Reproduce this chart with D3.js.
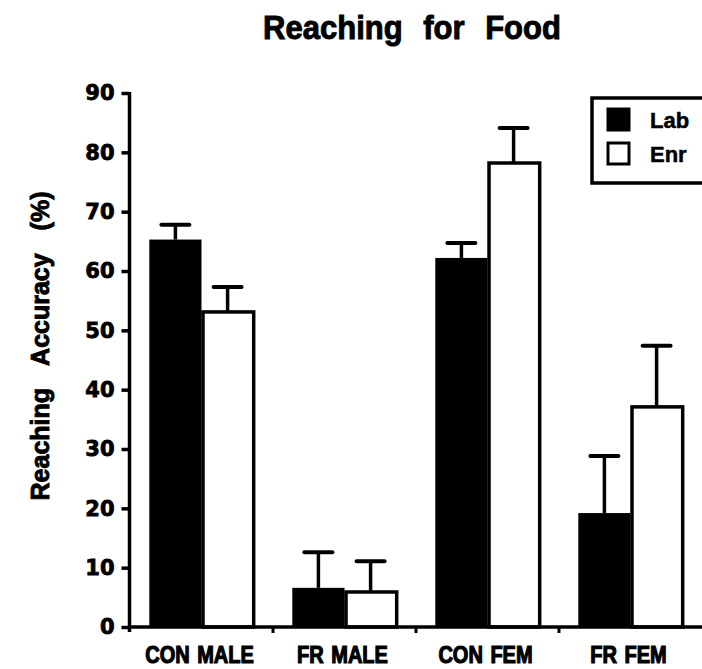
<!DOCTYPE html>
<html>
<head>
<meta charset="utf-8">
<script src="https://cdn.jsdelivr.net/npm/d3@7"></script>
<style>
  body { margin: 0; background: #fff; }
  svg { display: block; }
</style>
</head>
<body>
<script>
// Reaching for Food - grouped bars with error bars
var width = 702,
    height = 669;

var categories = ["CON MALE", "FR MALE", "CON FEM", "FR FEM"];
var groups = ["Lab", "Enr"];
var labMean = [65.3, 6.6, 62.2, 19.2];
var labSem = [2.5, 6.0, 2.5, 9.6];
var enrMean = [53.1, 5.9, 78.2, 37.1];
var enrSem = [4.2, 5.2, 5.9, 10.3];
var yTicks = [0, 10, 20, 30, 40, 50, 60, 70, 80, 90];

var svg = d3.select("body").append("svg")
    .attr("width", width)
    .attr("height", height);

var y = d3.scaleLinear()
    .domain([0, 90])
    .range([627, 93]);

var x0 = d3.scaleBand()
    .domain(categories)
    .range([130, 702]);

var x1 = d3.scaleBand()
    .domain(groups)
    .range([0, x0.bandwidth()])
    .paddingOuter(0.37);

// rows for the bars
var rows = [];
categories.forEach(function(c, i) {
    rows.push({cat: c, grp: "Lab", v: labMean[i], e: labSem[i]});
    rows.push({cat: c, grp: "Enr", v: enrMean[i], e: enrSem[i]});
});

var bold = "'Liberation Sans', Arial, sans-serif";

// title
svg.append("text")
    .attr("transform", "translate(412,39) scale(1,1.1)")
    .attr("text-anchor", "middle")
    .style("font-family", bold)
    .style("font-weight", "bold")
    .style("font-size", "31px")
    .style("word-spacing", "12px")
    .style("stroke", "#000")
    .style("stroke-width", "0.9px")
    .text("Reaching for Food");

// y axis label
svg.append("text")
    .attr("transform", "translate(49,346) rotate(-90)")
    .attr("text-anchor", "middle")
    .style("font-family", bold)
    .style("font-weight", "bold")
    .style("font-size", "25px")
    .style("word-spacing", "16px")
    .style("stroke", "#000")
    .style("stroke-width", "0.9px")
    .text("Reaching Accuracy (%)");

// error bars first, bars drawn over the lower half
var eb = svg.append("g").attr("class", "errbars");
eb.selectAll("line.v")
    .data(rows)
    .enter().append("line")
    .attr("x1", function(d) { return x0(d.cat) + x1(d.grp) + x1.bandwidth() / 2; })
    .attr("x2", function(d) { return x0(d.cat) + x1(d.grp) + x1.bandwidth() / 2; })
    .attr("y1", function(d) { return y(d.v); })
    .attr("y2", function(d) { return y(d.v + d.e); })
    .style("stroke", "#000")
    .style("stroke-width", 3.5);
eb.selectAll("line.cap")
    .data(rows)
    .enter().append("line")
    .attr("x1", function(d) { return x0(d.cat) + x1(d.grp) + x1.bandwidth() / 2 - 14; })
    .attr("x2", function(d) { return x0(d.cat) + x1(d.grp) + x1.bandwidth() / 2 + 14; })
    .attr("y1", function(d) { return y(d.v + d.e); })
    .attr("y2", function(d) { return y(d.v + d.e); })
    .style("stroke", "#000")
    .style("stroke-width", 4)
    .style("stroke-linecap", "round");

// bars
svg.append("g").selectAll("rect")
    .data(rows)
    .enter().append("rect")
    .attr("x", function(d) { return x0(d.cat) + x1(d.grp) + (d.grp == "Enr" ? 1.5 : 0); })
    .attr("y", function(d) { return y(d.v); })
    .attr("width", function(d) { return x1.bandwidth() - (d.grp == "Enr" ? 1.5 : 0); })
    .attr("height", function(d) { return y(0) - y(d.v); })
    .style("fill", function(d) { return d.grp == "Lab" ? "#000" : "#fff"; })
    .style("stroke", "#000")
    .style("stroke-width", function(d) { return d.grp == "Lab" ? 0 : 3.5; });

// y axis
var yAxis = svg.append("g")
    .attr("transform", "translate(129.5,0)")
    .call(d3.axisLeft(y).tickValues(yTicks).tickSize(8).tickPadding(7).tickSizeOuter(0));
yAxis.select(".domain").attr("d", "M0,92V632").style("stroke-width", 3.5);
yAxis.selectAll(".tick line").style("stroke-width", 3.5);
yAxis.selectAll(".tick text")
    .style("font-family", "'DejaVu Sans', sans-serif")
    .style("font-weight", "bold")
    .style("font-size", "21px")
    .style("stroke", "#000")
    .style("stroke-width", "0.8px");

// x axis, ticks at the group boundaries
var xAxis = svg.append("g")
    .attr("transform", "translate(0,627)");
xAxis.append("line")
    .attr("x1", 128).attr("x2", 702)
    .style("stroke", "#000")
    .style("stroke-width", 3.5);
xAxis.selectAll("line.tk")
    .data(categories.slice(1))
    .enter().append("line")
    .attr("x1", function(d) { return x0(d); })
    .attr("x2", function(d) { return x0(d); })
    .attr("y1", 0).attr("y2", 6)
    .style("stroke", "#000")
    .style("stroke-width", 3);
xAxis.selectAll("text")
    .data(categories)
    .enter().append("text")
    .attr("transform", function(d) { return "translate(" + (x0(d) + x0.bandwidth() / 2 - 2) + ",36) scale(1,1.2)"; })
    .attr("text-anchor", "middle")
    .style("font-family", bold)
    .style("font-weight", "bold")
    .style("font-size", "20px")
    .style("word-spacing", "2px")
    .style("stroke", "#000")
    .style("stroke-width", "1px")
    .text(function(d) { return d; });

// legend
var legend = svg.append("g");
legend.append("rect")
    .attr("x", 592).attr("y", 98)
    .attr("width", 130).attr("height", 85)
    .style("fill", "#fff")
    .style("stroke", "#000")
    .style("stroke-width", 3.5);
legend.selectAll("rect.sw")
    .data(groups)
    .enter().append("rect")
    .attr("x", 608)
    .attr("y", function(d, i) { return 109 + i * 34; })
    .attr("width", 21).attr("height", 21)
    .style("fill", function(d) { return d == "Lab" ? "#000" : "#fff"; })
    .style("stroke", "#000")
    .style("stroke-width", 3);
legend.selectAll("text")
    .data(groups)
    .enter().append("text")
    .attr("x", 650)
    .attr("y", function(d, i) { return 128 + i * 34; })
    .style("font-family", bold)
    .style("font-weight", "bold")
    .style("font-size", "22px")
    .style("stroke", "#000")
    .style("stroke-width", "0.5px")
    .text(function(d) { return d; });
</script>
</body>
</html>
